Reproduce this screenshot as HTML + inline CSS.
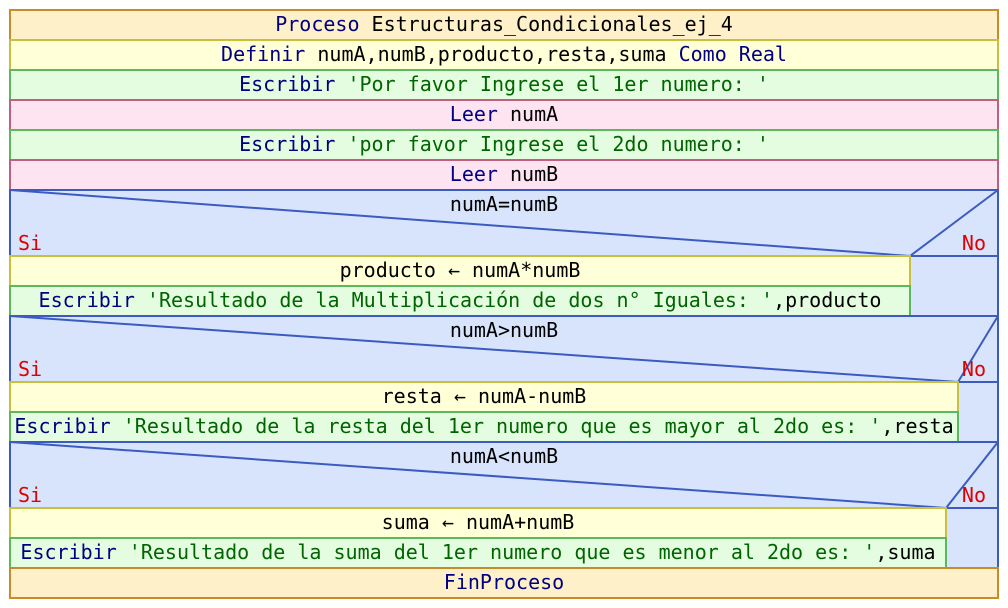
<!DOCTYPE html>
<html><head><meta charset="utf-8">
<style>
html,body{margin:0;padding:0;background:#fff;width:1008px;height:608px;overflow:hidden}
svg text{font-family:"DejaVu Sans Mono","Liberation Mono",monospace;font-size:20px}
.k{fill:#000080}.s{fill:#006400}.v{fill:#000}.r{fill:#e00000}
</style></head><body>
<svg width="1008" height="608" xmlns="http://www.w3.org/2000/svg">
<g stroke-width="2">
<rect x="10" y="10" width="988" height="30" fill="#fef0c8" stroke="#c88a2a"/>
<rect x="10" y="40" width="988" height="30" fill="#ffffd8" stroke="#c8c040"/>
<rect x="10" y="70" width="988" height="30" fill="#e4fde0" stroke="#5cb85c"/>
<rect x="10" y="100" width="988" height="30" fill="#fde4f0" stroke="#c06080"/>
<rect x="10" y="130" width="988" height="30" fill="#e4fde0" stroke="#5cb85c"/>
<rect x="10" y="160" width="988" height="30" fill="#fde4f0" stroke="#c06080"/>
<rect x="10" y="190" width="988" height="126" fill="#d8e4fc" stroke="#3b5bc0"/>
<line x1="10" y1="190" x2="910" y2="256" stroke="#3b5bc0"/>
<line x1="998" y1="190" x2="910" y2="256" stroke="#3b5bc0"/>
<line x1="910" y1="256" x2="998" y2="256" stroke="#3b5bc0"/>
<rect x="10" y="256" width="900" height="30" fill="#ffffd8" stroke="#c8c040"/>
<rect x="10" y="286" width="900" height="30" fill="#e4fde0" stroke="#5cb85c"/>
<rect x="10" y="316" width="988" height="126" fill="#d8e4fc" stroke="#3b5bc0"/>
<line x1="10" y1="316" x2="958" y2="382" stroke="#3b5bc0"/>
<line x1="998" y1="316" x2="958" y2="382" stroke="#3b5bc0"/>
<line x1="958" y1="382" x2="998" y2="382" stroke="#3b5bc0"/>
<rect x="10" y="382" width="948" height="30" fill="#ffffd8" stroke="#c8c040"/>
<rect x="10" y="412" width="948" height="30" fill="#e4fde0" stroke="#5cb85c"/>
<rect x="10" y="442" width="988" height="126" fill="#d8e4fc" stroke="#3b5bc0"/>
<line x1="10" y1="442" x2="946" y2="508" stroke="#3b5bc0"/>
<line x1="998" y1="442" x2="946" y2="508" stroke="#3b5bc0"/>
<line x1="946" y1="508" x2="998" y2="508" stroke="#3b5bc0"/>
<rect x="10" y="508" width="936" height="30" fill="#ffffd8" stroke="#c8c040"/>
<rect x="10" y="538" width="936" height="30" fill="#e4fde0" stroke="#5cb85c"/>
<rect x="10" y="568" width="988" height="30" fill="#fef0c8" stroke="#c88a2a"/>
</g>
<g text-anchor="middle">
<text x="504" y="31"><tspan class="k">Proceso </tspan><tspan class="v">Estructuras_Condicionales_ej_4</tspan></text>
<text x="504" y="61"><tspan class="k">Definir </tspan><tspan class="v">numA,numB,producto,resta,suma </tspan><tspan class="k">Como Real</tspan></text>
<text x="504" y="91"><tspan class="k">Escribir </tspan><tspan class="s">'Por favor Ingrese el 1er numero: '</tspan></text>
<text x="504" y="121"><tspan class="k">Leer </tspan><tspan class="v">numA</tspan></text>
<text x="504" y="151"><tspan class="k">Escribir </tspan><tspan class="s">'por favor Ingrese el 2do numero: '</tspan></text>
<text x="504" y="181"><tspan class="k">Leer </tspan><tspan class="v">numB</tspan></text>
<text x="504" y="211" class="v">numA=numB</text>
<text x="460" y="277" class="v">producto ← numA*numB</text>
<text x="460" y="307"><tspan class="k">Escribir </tspan><tspan class="s">'Resultado de la Multiplicación de dos n° Iguales: '</tspan><tspan class="v">,producto</tspan></text>
<text x="504" y="337" class="v">numA&gt;numB</text>
<text x="484" y="403" class="v">resta ← numA-numB</text>
<text x="484" y="433"><tspan class="k">Escribir </tspan><tspan class="s">'Resultado de la resta del 1er numero que es mayor al 2do es: '</tspan><tspan class="v">,resta</tspan></text>
<text x="504" y="463" class="v">numA&lt;numB</text>
<text x="478" y="529" class="v">suma ← numA+numB</text>
<text x="478" y="559"><tspan class="k">Escribir </tspan><tspan class="s">'Resultado de la suma del 1er numero que es menor al 2do es: '</tspan><tspan class="v">,suma</tspan></text>
<text x="504" y="589" class="k">FinProceso</text>
</g>
<text x="18" y="250" class="r">Si</text>
<text x="986" y="250" class="r" text-anchor="end">No</text>
<text x="18" y="376" class="r">Si</text>
<text x="986" y="376" class="r" text-anchor="end">No</text>
<text x="18" y="502" class="r">Si</text>
<text x="986" y="502" class="r" text-anchor="end">No</text>
</svg>
</body></html>
